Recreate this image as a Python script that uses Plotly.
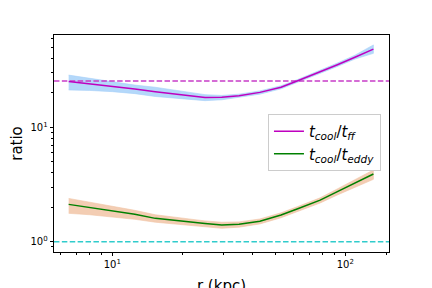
import plotly.graph_objects as go

# radius (kpc)
r = [6.5, 8, 10, 12.5, 15.3, 20, 25, 29.5, 35, 43, 53, 62.5, 78, 92, 110, 132]

# t_cool / t_ff
tff = [25.1, 24.0, 22.8, 21.6, 20.5, 19.2, 18.2, 18.3, 18.9, 20.2, 22.4, 25.5, 30.5, 35.1, 41.0, 48.3]
tff_hi = [28.6, 26.8, 25.0, 23.4, 22.4, 20.5, 19.3, 19.0, 19.5, 20.8, 23.1, 26.2, 31.5, 36.3, 42.7, 52.5]
tff_lo = [21.2, 21.0, 20.5, 19.7, 18.6, 17.8, 17.1, 17.4, 18.2, 19.5, 21.7, 24.8, 29.6, 33.9, 39.5, 44.3]

# t_cool / t_eddy
teddy = [2.12, 2.0, 1.87, 1.74, 1.60, 1.50, 1.44, 1.40, 1.42, 1.51, 1.71, 1.94, 2.31, 2.73, 3.26, 3.91]
teddy_hi = [2.39, 2.22, 2.05, 1.88, 1.72, 1.60, 1.52, 1.48, 1.49, 1.58, 1.79, 2.03, 2.42, 2.88, 3.47, 4.24]
teddy_lo = [1.77, 1.72, 1.65, 1.57, 1.48, 1.40, 1.35, 1.31, 1.34, 1.43, 1.62, 1.84, 2.18, 2.55, 3.00, 3.51]

# reference levels
ff_level = 25.4
eddy_level = 1.0

x_major = [10, 100]
x_major_text = ["10<sup>1</sup>", "10<sup>2</sup>"]
x_minor = [6, 7, 8, 9, 20, 30, 40, 50, 60, 70, 80, 90, 150]
y_major = [1, 10]
y_major_text = ["10<sup>0</sup>", "10<sup>1</sup>"]
y_minor = [0.9, 2, 3, 4, 5, 6, 7, 8, 9, 20, 30, 40, 50, 60]

font = "DejaVu Sans"

fig = go.Figure()

fig.add_trace(go.Scatter(x=r + r[::-1], y=tff_hi + tff_lo[::-1], fill="toself",
                         fillcolor="#b4d8fa", line=dict(width=0.6, color="#a8d0f8"),
                         hoverinfo="skip", showlegend=False))
fig.add_trace(go.Scatter(x=r + r[::-1], y=teddy_hi + teddy_lo[::-1], fill="toself",
                         fillcolor="#f3cdb3", line=dict(width=0.6, color="#f0c4a6"),
                         hoverinfo="skip", showlegend=False))

x_span = [5.62, 154]
fig.add_trace(go.Scatter(x=x_span, y=[ff_level, ff_level], mode="lines",
                         line=dict(color="#c83cc8", width=1.5, dash="5.5px,2.4px"),
                         hoverinfo="skip", showlegend=False))
fig.add_trace(go.Scatter(x=x_span, y=[eddy_level, eddy_level], mode="lines",
                         line=dict(color="#30cccc", width=1.5, dash="5.5px,2.4px"),
                         hoverinfo="skip", showlegend=False))

fig.add_trace(go.Scatter(x=r, y=tff, mode="lines", line=dict(color="#bf00bf", width=1.5),
                         name="<i>t</i><sub><i>cool</i></sub>/<i>t</i><sub><i>ff</i></sub>"))
fig.add_trace(go.Scatter(x=r, y=teddy, mode="lines", line=dict(color="#008000", width=1.5),
                         name="<i>t</i><sub><i>cool</i></sub>/<i>t</i><sub><i>eddy</i></sub>"))

axis_common = dict(showline=True, mirror=True, linecolor="black", linewidth=0.8,
                   ticks="outside", ticklen=3.5, tickwidth=0.8, tickcolor="black",
                   showgrid=False, zeroline=False, automargin=False,
                   tickfont=dict(family=font, size=10, color="black"))

fig.update_xaxes(type="log", range=[0.75, 2.1875], tickmode="array",
                 tickvals=x_major, ticktext=x_major_text,
                 minor=dict(tickmode="array", tickvals=x_minor, ticks="outside",
                            ticklen=2, tickwidth=0.6, tickcolor="black", showgrid=False),
                 title=dict(text="r (kpc)", font=dict(family=font, size=15, color="black"), standoff=11),
                 **axis_common)
fig.update_yaxes(type="log", range=[-0.090, 1.807], tickmode="array",
                 tickvals=y_major, ticktext=y_major_text,
                 minor=dict(tickmode="array", tickvals=y_minor, ticks="outside",
                            ticklen=2, tickwidth=0.6, tickcolor="black", showgrid=False),
                 title=dict(text="ratio", font=dict(family=font, size=15, color="black"), standoff=5),
                 **axis_common)

# the page body adds an 8px offset, so margins are shifted to compensate
fig.update_layout(width=432, height=288, margin=dict(l=46, r=51, t=27, b=44),
                  paper_bgcolor="white", plot_bgcolor="white",
                  font=dict(family=font, color="black"),
                  legend=dict(x=0.976, y=0.636, xanchor="right", yanchor="top",
                              bgcolor="white", bordercolor="#cccccc", borderwidth=1,
                              font=dict(family=font, size=15, color="black"),
                              tracegroupgap=2, itemwidth=30))

fig.write_html("out.html")
